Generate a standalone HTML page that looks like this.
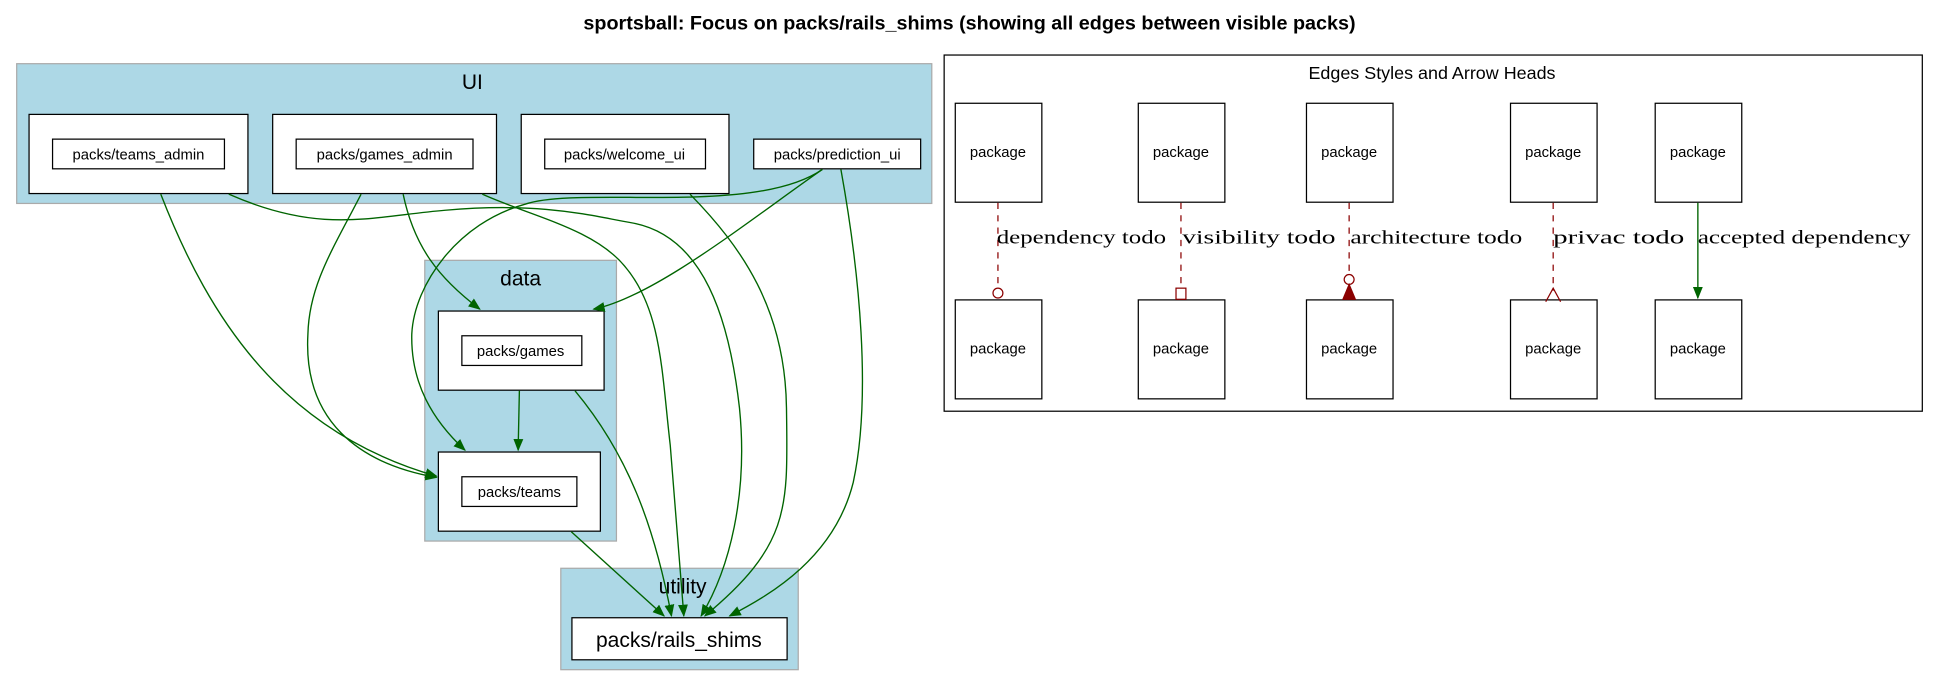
<!DOCTYPE html>
<html><head><meta charset="utf-8"><style>
html,body{margin:0;padding:0;background:#fff;width:1939px;height:687px;overflow:hidden}
svg{display:block}
text{font-family:"Liberation Sans",sans-serif;fill:#000}
.s{font-family:"Liberation Serif",serif;font-size:15px}
</style></head><body>
<svg width="1939" height="687" viewBox="0 0 1568 555.5" preserveAspectRatio="none" xmlns="http://www.w3.org/2000/svg">
<defs>
<marker id="a" markerWidth="10" markerHeight="8" refX="9" refY="4" orient="auto" markerUnits="userSpaceOnUse"><path d="M0,0 L10,4 L0,8 z" fill="#006400"/></marker>
</defs>
<text x="784" y="24" text-anchor="middle" font-size="16" font-weight="bold">sportsball: Focus on packs/rails_shims (showing all edges between visible packs)</text>
<rect x="13.5" y="51.5" width="740" height="113" fill="#add8e6" stroke="#aaa"/>
<text x="382" y="72" text-anchor="middle" font-size="17">UI</text>
<rect x="343.5" y="210.5" width="155" height="227" fill="#add8e6" stroke="#aaa"/>
<text x="421" y="231" text-anchor="middle" font-size="17">data</text>
<rect x="453.5" y="459.5" width="192" height="82" fill="#add8e6" stroke="#aaa"/>
<text x="552" y="480" text-anchor="middle" font-size="17">utility</text>
<g fill="#fff" stroke="#000">
<rect x="23.5" y="92.5" width="177" height="64"/><rect x="42.5" y="112.5" width="139" height="24"/>
<rect x="220.5" y="92.5" width="181" height="64"/><rect x="239.5" y="112.5" width="143" height="24"/>
<rect x="421.5" y="92.5" width="168" height="64"/><rect x="440.5" y="112.5" width="130" height="24"/>
<rect x="609.5" y="112.5" width="135" height="24"/>
<rect x="354.5" y="251.5" width="134" height="64"/><rect x="373.5" y="271.5" width="97" height="24"/>
<rect x="354.5" y="365.5" width="131" height="64"/><rect x="373.5" y="385.5" width="93" height="24"/>
<rect x="462.5" y="499.5" width="174" height="34"/>
</g>
<g font-size="12" text-anchor="middle">
<text x="112" y="129">packs/teams_admin</text>
<text x="311" y="129">packs/games_admin</text>
<text x="505" y="129">packs/welcome_ui</text>
<text x="677" y="129">packs/prediction_ui</text>
<text x="421" y="288">packs/games</text>
<text x="420" y="402">packs/teams</text>
</g>
<text x="549" y="523" text-anchor="middle" font-size="17">packs/rails_shims</text>
<g fill="none" stroke="#006400" stroke-width="1.1" marker-end="url(#a)">
<path d="M130,157 C170,260 230,350 353,385"/>
<path d="M292,157 C270,200 250,230 249,270 C245,340 290,375 353,386"/>
<path d="M326,157 C335,200 355,225 388,250"/>
<path d="M665,137 C610,175 530,240 480,250"/>
<path d="M665,137 C610,175 470,150 425,165 C370,180 335,230 333,270 C332,310 350,340 376,364"/>
<path d="M420,316 L419,364"/>
<path d="M185,157 C260,190 300,175 360,170 C440,163 480,175 510,180 C570,190 590,260 598,330 C605,400 590,460 567,498"/>
<path d="M390,157 C430,175 480,185 505,215 C535,250 535,300 542,360 L553,498"/>
<path d="M558,157 C600,200 635,250 636,330 C637,410 640,440 570,498"/>
<path d="M680,137 C695,220 705,320 690,390 C675,450 625,480 590,498"/>
<path d="M465,316 C510,370 530,430 543,498"/>
<path d="M462,430 L537,498"/>
</g>
<rect x="763.5" y="44.5" width="791" height="288" fill="#fff" stroke="#000"/>
<text x="1158" y="64" text-anchor="middle" font-size="14.5">Edges Styles and Arrow Heads</text>
<g fill="#fff" stroke="#000">
<rect x="772.5" y="83.5" width="70" height="80"/><rect x="772.5" y="242.5" width="70" height="80"/>
<rect x="920.5" y="83.5" width="70" height="80"/><rect x="920.5" y="242.5" width="70" height="80"/>
<rect x="1056.5" y="83.5" width="70" height="80"/><rect x="1056.5" y="242.5" width="70" height="80"/>
<rect x="1221.5" y="83.5" width="70" height="80"/><rect x="1221.5" y="242.5" width="70" height="80"/>
<rect x="1338.5" y="83.5" width="70" height="80"/><rect x="1338.5" y="242.5" width="70" height="80"/>
</g>
<g font-size="12" text-anchor="middle">
<text x="807" y="127">package</text><text x="807" y="286">package</text>
<text x="955" y="127">package</text><text x="955" y="286">package</text>
<text x="1091" y="127">package</text><text x="1091" y="286">package</text>
<text x="1256" y="127">package</text><text x="1256" y="286">package</text>
<text x="1373" y="127">package</text><text x="1373" y="286">package</text>
</g>
<g stroke="#8b0000" stroke-dasharray="5,5" fill="none">
<line x1="807" y1="164" x2="807" y2="231"/>
<line x1="955" y1="164" x2="955" y2="233"/>
<line x1="1091" y1="164" x2="1091" y2="222"/>
<line x1="1256" y1="164" x2="1256" y2="235"/>
</g>
<g stroke="#8b0000" fill="none">
<circle cx="807" cy="237" r="4"/>
<rect x="951" y="233" width="8" height="9"/>
<circle cx="1091" cy="226" r="4"/>
<path d="M1091,230 L1086,242 L1096,242 z" fill="#8b0000"/>
<path d="M1250,244 L1256,233 L1262,244"/>
</g>
<line x1="1373" y1="164" x2="1373" y2="241" stroke="#006400" stroke-width="1.1" marker-end="url(#a)"/>
<text x="806" y="197" class="s" textLength="137" lengthAdjust="spacingAndGlyphs">dependency todo</text>
<text x="956" y="197" class="s" textLength="124" lengthAdjust="spacingAndGlyphs">visibility todo</text>
<text x="1092" y="197" class="s" textLength="139" lengthAdjust="spacingAndGlyphs">architecture todo</text>
<text x="1256" y="197" class="s" textLength="106" lengthAdjust="spacingAndGlyphs">privac todo</text>
<text x="1373" y="197" class="s" textLength="172" lengthAdjust="spacingAndGlyphs">accepted dependency</text>
</svg>
</body></html>
